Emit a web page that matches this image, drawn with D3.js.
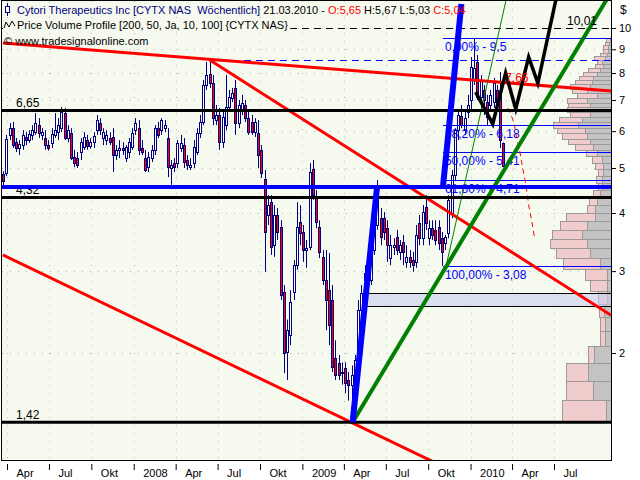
<!DOCTYPE html>
<html><head><meta charset="utf-8">
<script src="https://cdn.jsdelivr.net/npm/d3@7/dist/d3.min.js"></script>
<style>
html,body{margin:0;padding:0;background:#fff;}
svg{display:block;}
text{font-family:"Liberation Sans",Arial,sans-serif;white-space:pre;}
</style></head><body>
<svg id="chart" width="640" height="480"></svg>
<script>
// ================= DATA =================
const firstWeek = "2007-03-26";
const opens = [4.85,4.88,5.89,6.09,5.68,5.52,5.60,5.83,5.74,5.89,5.97,6.18,5.89,5.80,5.60,5.66,5.89,5.97,6.09,6.56,5.80,5.94,5.28,5.25,5.41,5.55,5.74,5.57,5.68,6.03,6.25,5.80,5.74,5.80,5.83,5.33,5.47,5.52,5.25,5.41,5.55,6.03,6.09,5.52,5.25,5.02,5.25,5.47,6.09,6.03,6.09,5.80,5.00,5.12,5.12,5.52,5.60,5.20,5.02,5.12,5.41,5.94,6.28,7.54,7.96,7.61,6.34,6.50,5.68,6.18,6.76,7.07,7.43,6.25,6.66,6.83,6.40,6.28,5.97,5.94,5.47,4.73,3.96,4.22,3.41,3.96,3.73,2.70,2.01,2.19,2.70,3.09,3.83,3.64,3.33,3.38,4.97,4.33,3.73,3.22,2.87,2.73,2.60,1.95,1.90,1.81,1.86,1.75,1.71,1.75,1.82,2.47,2.97,2.90,2.87,3.33,3.77,3.90,3.90,3.71,3.20,3.38,3.55,3.30,3.46,3.14,3.22,3.17,3.14,3.81,3.53,4.12,3.53,3.71,3.68,3.73,3.53,3.45,3.62,4.00,4.83,6.03,6.47,6.03,6.60,7.00,7.73,8.45,7.10,7.36,6.93,6.83,6.93,7.36,7.18,5.65];
const highs = [4.92,5.89,6.25,6.28,5.80,5.74,6.03,5.97,6.03,6.18,6.56,6.40,6.09,6.03,5.74,6.09,6.56,6.40,6.76,6.73,6.18,6.09,5.47,5.41,5.80,5.97,5.89,5.80,5.97,6.50,6.40,6.09,6.03,5.97,6.09,5.60,5.74,5.68,5.60,5.80,6.09,6.40,6.34,5.74,5.47,5.41,5.60,6.18,6.28,6.40,6.34,6.09,5.20,5.25,5.74,5.89,5.80,5.33,5.25,5.74,6.09,6.50,7.73,8.45,8.45,7.92,6.83,6.73,6.66,7.92,7.36,7.43,7.73,7.00,7.18,7.00,6.66,6.50,6.40,6.34,5.60,4.95,4.37,4.37,4.16,4.10,3.86,2.80,2.36,2.73,3.17,4.22,4.16,3.77,3.50,5.12,5.20,4.48,3.86,3.33,3.33,3.28,2.80,2.13,1.98,1.91,1.91,1.82,1.88,1.98,2.60,2.80,3.09,3.20,3.50,3.96,4.71,4.10,4.02,3.86,3.59,3.53,3.68,3.50,3.59,3.41,3.33,3.30,3.77,3.96,4.16,4.37,3.86,3.86,3.86,3.86,3.64,3.59,4.37,4.95,6.09,6.60,6.83,6.66,7.18,8.66,9.50,8.75,7.92,7.54,7.18,7.36,7.81,7.54,8.04,5.67];
const lows = [4.53,4.80,5.74,5.52,5.41,5.33,5.47,5.60,5.66,5.74,5.89,5.80,5.74,5.47,5.45,5.52,5.80,5.74,5.97,5.74,5.68,5.20,5.02,5.00,5.20,5.47,5.47,5.50,5.52,5.89,5.89,5.60,5.60,5.60,4.90,5.20,5.25,5.33,5.15,5.25,5.47,5.89,5.33,5.33,4.90,4.90,5.15,5.33,5.80,5.89,5.97,4.78,4.60,4.90,5.00,5.41,5.00,4.95,4.95,5.00,5.33,5.80,6.18,7.36,7.43,6.18,6.18,5.47,5.52,6.03,6.60,6.93,5.89,6.09,6.50,6.28,5.89,5.89,5.83,5.00,4.76,2.99,3.77,3.25,3.22,3.50,2.60,1.81,1.75,2.08,2.60,3.02,3.41,3.14,3.05,3.33,4.27,3.71,3.20,2.80,2.24,2.08,1.82,1.75,1.75,1.71,1.64,1.58,1.42,1.62,1.77,2.38,2.73,2.80,2.80,3.25,3.68,3.41,3.50,3.14,3.09,3.25,3.25,3.17,3.09,3.05,3.05,2.99,3.05,3.41,3.41,3.68,3.41,3.50,3.41,3.33,3.08,3.33,3.53,3.90,4.71,5.74,6.09,5.89,6.40,6.66,7.54,7.00,6.66,6.50,6.18,6.60,6.73,6.66,5.52,5.03];
const closes = [4.69,5.77,6.09,5.60,5.52,5.63,5.89,5.74,5.92,6.03,6.25,5.94,5.97,5.60,5.52,5.92,6.03,6.18,6.60,5.80,6.03,5.25,5.12,5.07,5.68,5.83,5.57,5.70,5.86,6.34,6.03,5.97,5.89,5.68,5.33,5.47,5.52,5.47,5.55,5.68,5.94,6.25,5.47,5.41,4.95,5.28,5.47,6.09,5.89,6.34,6.18,5.02,5.07,5.02,5.66,5.66,5.15,5.07,5.07,5.55,5.94,6.28,7.54,7.92,7.61,6.40,6.50,5.68,6.44,6.76,7.10,7.25,6.25,6.83,6.90,6.40,5.97,5.97,6.28,5.33,4.88,3.64,4.16,3.38,3.96,3.64,2.67,2.00,2.24,2.57,3.09,3.73,3.62,3.33,3.36,4.90,4.37,3.83,3.30,2.87,2.60,2.30,1.87,1.79,1.79,1.82,1.72,1.71,1.79,1.93,2.47,2.69,2.87,3.12,3.38,3.77,4.48,3.55,3.64,3.41,3.41,3.41,3.33,3.41,3.30,3.22,3.14,3.09,3.59,3.53,4.02,3.81,3.71,3.59,3.50,3.45,3.30,3.55,4.27,4.83,6.03,6.50,6.18,6.40,6.83,8.24,8.20,7.10,7.73,7.00,6.44,7.18,7.61,6.93,5.74,5.04];

// Price volume profile (50 bins between profileLow and profileHigh), bottom to top
const profileLow = 1.42, profileHigh = 9.5;
const profileVolPink = [440,270,220,60,50,50,50,90,170,220,370,340,370,300,270,290,80,80,70,40,60,50,80,100,110,180,220,250,280,250,230,200,200,220,200,200,150,200,170,140,140,120,80,50,110,70,50,50,40,40];
const profileVolGray = [50,180,230,170,60,60,70,40,40,40,110,210,240,290,240,160,160,140,110,90,90,80,80,90,140,180,210,240,260,330,290,210,240,210,240,140,240,210,190,180,140,110,80,90,60,40,30,30,20,10];

// Horizontal levels
const blackLevels = [6.65, 4.32, 1.42];
const blackLevelLabels = ["6,65", "4,32", "1,42"];
const blueLevel = 4.55;
const dashedTop = 10.01;
const blueDashStart = "2008-08-01", blueDashValue = 8.53;

// Fibonacci retracement
const fibStart = "2009-11-02";
const fibPercents = ["0,00%", "38,20%", "50,00%", "61,80%", "100,00%"];
const fibValues = [9.5, 6.18, 5.41, 4.71, 3.08];
const fibValueLabels = ["9,5", "6,18", "5,41", "4,71", "3,08"];

// Zone box
const boxStart = "2009-05-08", boxLow = 2.52, boxHigh = 2.69;

// Trend lines [date, price]
const trendA = [["2007-03-23", 9.28], ["2010-11-02", 7.32]];
const trendB = [["2008-06-14", 8.53], ["2010-11-02", 2.41]];
const trendC = [["2007-03-23", 3.25], ["2009-10-27", 1.148]];
const greenThick = [["2009-04-20", 1.42], ["2010-11-02", 11.95]];
const greenThin = [["2009-11-09", 3.08], ["2010-03-19", 11.49]];
const blueUp1 = [["2009-04-20", 1.42], ["2009-06-12", 4.55]];
const blueUp2 = [["2009-11-02", 4.55], ["2009-12-12", 11.26]];
const blackZig = [["2010-01-12", 7.28], ["2010-02-18", 6.22], ["2010-03-18", 8.00], ["2010-04-09", 6.70], ["2010-05-07", 8.66], ["2010-05-27", 7.61], ["2010-07-05", 11.49]];
const redDash = [["2010-03-23", 6.73], ["2010-04-05", 6.28], ["2010-04-11", 5.80], ["2010-04-18", 5.41], ["2010-04-24", 5.00], ["2010-05-01", 4.60], ["2010-05-07", 4.16], ["2010-05-14", 3.83], ["2010-05-20", 3.53]];
const trendLabel = {date: "2010-03-17", value: 7.66, text: "7,66"};

// Axis ticks
const yTickValues = [2, 3, 4, 5, 6, 7, 8, 9, 10];
const monthNames = ["Jan","Feb","Mär","Apr","Mai","Jun","Jul","Aug","Sep","Okt","Nov","Dez"];

// ================= CHART =================
const parse = d3.timeParse("%Y-%m-%d");
const W = 640, H = 480;
const P = {l: 2, t: 1, r: 611, b: 460};
const svg = d3.select("#chart");

const x = d3.scaleTime().domain([new Date(2007, 3, 1), new Date(2010, 6, 1)]).range([7, 554]);
const y = d3.scaleLog().domain([2, 10]).range([353, 28]);
const vol = d3.scaleLinear().domain([0, 610]).range([0, 61]);

const start = parse(firstWeek);
const candles = opens.map((o, i) => ({
  date: d3.timeDay.offset(start, 7 * i), o, h: highs[i], l: lows[i], c: closes[i]
}));

svg.append("rect").attr("width", W).attr("height", H).attr("fill", "#ffffff");
svg.append("rect").attr("x", P.l).attr("y", P.t).attr("width", P.r - P.l).attr("height", P.b - P.t).attr("fill", "#f6f9ee");

svg.append("defs").append("clipPath").attr("id", "clip")
  .append("rect").attr("x", P.l).attr("y", P.t).attr("width", P.r - P.l).attr("height", P.b - P.t);

const xTicks = d3.timeMonth.every(3).range(new Date(2007, 3, 1), new Date(2010, 7, 1));

// grid
const grid = svg.append("g").attr("stroke", "#b8b8b8").attr("stroke-dasharray", "1,7").attr("stroke-width", 1);
yTickValues.forEach(v => {
  const yy = Math.round(y(v)) + 0.5;
  grid.append("line").attr("x1", P.l).attr("x2", P.r).attr("y1", yy).attr("y2", yy);
});
xTicks.forEach(d => {
  const xx = Math.round(x(d)) + 0.5;
  grid.append("line").attr("x1", xx).attr("x2", xx).attr("y1", P.t).attr("y2", P.b);
});

const g = svg.append("g").attr("clip-path", "url(#clip)");

// volume profile
const binW = (profileHigh - profileLow) / profileVolPink.length;
const prof = g.append("g").attr("stroke", "#9a9a9a").attr("stroke-width", 1);
profileVolPink.forEach((pv, k) => {
  const lo = profileLow + k * binW, hi = lo + binW;
  const y0 = Math.round(y(hi)) + 0.5, y1 = Math.round(y(lo)) + 0.5;
  const gw = vol(profileVolGray[k]), pw = vol(pv);
  const xr = P.r;
  prof.append("rect").attr("x", Math.round(xr - gw) + 0.5).attr("y", y0)
    .attr("width", Math.round(gw)).attr("height", y1 - y0).attr("fill", "#c3c3c3");
  prof.append("rect").attr("x", Math.round(xr - gw - pw) + 0.5).attr("y", y0)
    .attr("width", Math.round(pw)).attr("height", y1 - y0).attr("fill", "#f0cccc");
});

// zone box
g.append("rect")
  .attr("x", Math.round(x(parse(boxStart))) + 0.5).attr("y", Math.round(y(boxHigh)) + 0.5)
  .attr("width", P.r - x(parse(boxStart))).attr("height", Math.round(y(boxLow)) - Math.round(y(boxHigh)))
  .attr("fill", "#c8cdf0").attr("fill-opacity", 0.6).attr("stroke", "#000").attr("stroke-width", 1);

// candles
const cg = g.append("g");
candles.forEach(d => {
  const cx = Math.round(x(d.date));
  cg.append("line").attr("x1", cx - 0.5).attr("x2", cx - 0.5)
    .attr("y1", y(d.h)).attr("y2", y(d.l)).attr("stroke", "#000080").attr("stroke-width", 1);
  const top = Math.round(y(Math.max(d.o, d.c))), bot = Math.round(y(Math.min(d.o, d.c)));
  cg.append("rect").attr("x", cx - 1.5).attr("y", top + 0.5)
    .attr("width", 2).attr("height", Math.max(1, bot - top))
    .attr("fill", d.c < d.o ? "#ff0000" : "#ffffff").attr("stroke", "#000080").attr("stroke-width", 1);
});

const line = d3.line().x(p => x(parse(p[0]))).y(p => y(p[1]));

// Fibonacci lines
const fx = x(parse(fibStart));
fibValues.forEach((v, i) => {
  const yy = Math.round(y(v)) + 0.5;
  g.append("line").attr("x1", fx).attr("x2", P.r).attr("y1", yy).attr("y2", yy)
    .attr("stroke", "#0000ff").attr("stroke-width", 1);
  g.append("text").attr("x", fx + 2).attr("y", yy + 12).attr("font-size", 12).attr("fill", "#0000ff")
    .text(fibPercents[i] + " - " + fibValueLabels[i]);
});

// dashed lines
g.append("line").attr("x1", x(parse(blueDashStart))).attr("x2", P.r)
  .attr("y1", Math.round(y(blueDashValue)) + 0.5).attr("y2", Math.round(y(blueDashValue)) + 0.5)
  .attr("stroke", "#0000ff").attr("stroke-dasharray", "7,5");
g.append("line").attr("x1", P.l).attr("x2", P.r)
  .attr("y1", Math.round(y(dashedTop)) + 0.5).attr("y2", Math.round(y(dashedTop)) + 0.5)
  .attr("stroke", "#000").attr("stroke-dasharray", "7,5");

// red trend lines
[trendA, trendB, trendC].forEach(t => {
  g.append("path").attr("d", line(t)).attr("fill", "none").attr("stroke", "#ff0000").attr("stroke-width", 3);
});
g.append("path").attr("d", line(redDash)).attr("fill", "none").attr("stroke", "#ff0000")
  .attr("stroke-width", 1).attr("stroke-dasharray", "5,4");

// green lines
g.append("path").attr("d", line(greenThick)).attr("fill", "none").attr("stroke", "#008000").attr("stroke-width", 4);
g.append("path").attr("d", line(greenThin)).attr("fill", "none").attr("stroke", "#008000").attr("stroke-width", 1);

// black horizontal levels
blackLevels.forEach((v, i) => {
  const yy = y(v);
  g.append("line").attr("x1", P.l).attr("x2", P.r).attr("y1", yy).attr("y2", yy)
    .attr("stroke", "#000").attr("stroke-width", 3);
  g.append("text").attr("x", 16).attr("y", yy - 3).attr("font-size", 12).attr("fill", "#000").text(blackLevelLabels[i]);
});

// blue support and thrust lines
g.append("line").attr("x1", P.l).attr("x2", P.r).attr("y1", y(blueLevel)).attr("y2", y(blueLevel))
  .attr("stroke", "#0000ff").attr("stroke-width", 4);
[blueUp1, blueUp2].forEach(t => {
  g.append("path").attr("d", line(t)).attr("fill", "none").attr("stroke", "#0000ff").attr("stroke-width", 6);
});

// black projection zigzag
g.append("path").attr("d", line(blackZig)).attr("fill", "none").attr("stroke", "#000")
  .attr("stroke-width", 3.5).attr("stroke-linejoin", "miter");

// labels
g.append("text").attr("x", 567).attr("y", y(dashedTop) - 3).attr("font-size", 12).attr("fill", "#000").text("10,01");
g.append("text").attr("x", x(parse(trendLabel.date))).attr("y", y(trendLabel.value))
  .attr("font-size", 12).attr("fill", "#ff0000").text(trendLabel.text);

// plot frame
svg.append("rect").attr("x", P.l - 0.5).attr("y", P.t - 0.5).attr("width", P.r - P.l + 1).attr("height", P.b - P.t + 1)
  .attr("fill", "none").attr("stroke", "#000").attr("stroke-width", 1);

// header texts
const hdr = svg.append("g").attr("font-size", 11);
const l2bg = hdr.append("rect").attr("fill", "#f6f9ee");
const t1 = hdr.append("text").attr("x", 17).attr("y", 14);
t1.append("tspan").attr("fill", "#000080").text("Cytori Therapeutics Inc [CYTX NAS  Wöchentlich] ");
t1.append("tspan").attr("fill", "#000").text("21.03.2010 - ");
t1.append("tspan").attr("fill", "#ff0000").text("O:5,65 ");
t1.append("tspan").attr("fill", "#000").text("H:5,67 L:5,03 ");
t1.append("tspan").attr("fill", "#ff0000").text("C:5,04");
const t2 = hdr.append("text").attr("x", 17).attr("y", 29).attr("fill", "#000")
  .text("Price Volume Profile [200, 50, Ja, 10, 100] {CYTX NAS}");
const bb = t2.node().getBBox();
l2bg.attr("x", 3).attr("y", bb.y).attr("width", bb.x + bb.width - 1).attr("height", bb.height);
hdr.append("text").attr("x", 4).attr("y", 45).attr("fill", "#000").text("© www.tradesignalonline.com");
// icons
hdr.append("line").attr("x1", 7.5).attr("x2", 7.5).attr("y1", 3).attr("y2", 16).attr("stroke", "#000080");
hdr.append("rect").attr("x", 5.5).attr("y", 6.5).attr("width", 4).attr("height", 6).attr("fill", "#fff").attr("stroke", "#000080");
hdr.append("path").attr("d", "M4,28 L6,22 L9,27 L12,21 L15,26").attr("fill", "none").attr("stroke", "#000");

// y axis
const ya = svg.append("g").attr("transform", `translate(${P.r},0)`)
  .call(d3.axisRight(y).tickValues(yTickValues).tickSize(5).tickPadding(3).tickFormat(d3.format("d")));
ya.select(".domain").remove();
ya.selectAll("text").attr("font-size", 11).attr("font-family", "Liberation Sans, Arial, sans-serif").attr("fill", "#000");
ya.selectAll("line").attr("stroke", "#000");
svg.append("text").attr("x", 620).attr("y", 14).attr("font-size", 12).attr("fill", "#000").text("$");

// x axis
const xa = svg.append("g").attr("transform", `translate(0,${P.b})`)
  .call(d3.axisBottom(x).tickValues(xTicks).tickSize(10)
    .tickFormat(d => d.getMonth() === 0 ? String(d.getFullYear()) : monthNames[d.getMonth()]));
xa.select(".domain").remove();
xa.selectAll(".tick line").attr("y1", 4).attr("y2", 10).attr("stroke", "#000");
xa.selectAll(".tick text").attr("x", 9).attr("y", 17).attr("dy", 0).attr("text-anchor", "start")
  .attr("font-size", 11).attr("font-family", "Liberation Sans, Arial, sans-serif").attr("fill", "#000");
</script>
</body></html>
